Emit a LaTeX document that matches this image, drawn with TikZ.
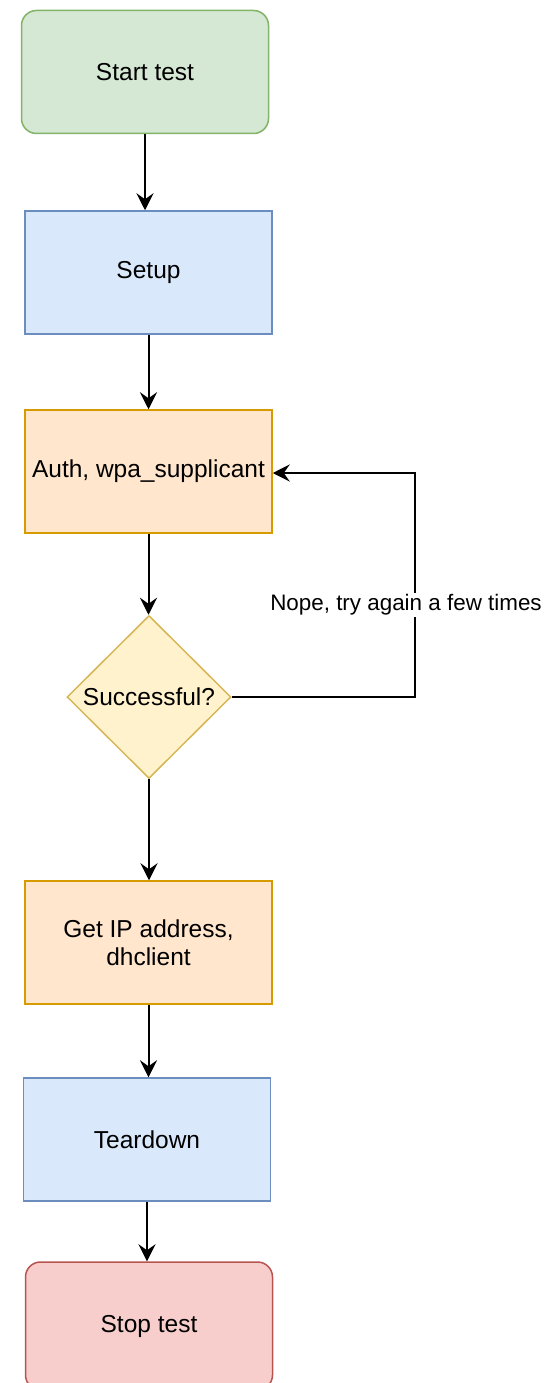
\documentclass[tikz,border=0pt]{standalone}
\usepackage{fontspec}
\setmainfont{Liberation Sans}
\usetikzlibrary{shapes.geometric,arrows.meta}
\definecolor{gfill}{HTML}{D5E8D4}\definecolor{gline}{HTML}{82B366}
\definecolor{bfill}{HTML}{DAE8FC}\definecolor{bline}{HTML}{6C8EBF}
\definecolor{ofill}{HTML}{FFE6CC}\definecolor{oline}{HTML}{D79B00}
\definecolor{yfill}{HTML}{FFF2CC}\definecolor{yline}{HTML}{D6B656}
\definecolor{rfill}{HTML}{F8CECC}\definecolor{rline}{HTML}{B85450}
\begin{document}
\begin{tikzpicture}[x=1pt,y=-1pt,
  boxbase/.style={draw,line width=1.5pt,minimum width=247pt,minimum height=123pt,inner sep=0pt,
    align=center,font=\fontsize{24.5}{28}\selectfont},
  startbox/.style={boxbase,rounded corners=15pt,fill=gfill,draw=gline},
  stopbox/.style={boxbase,rounded corners=15pt,fill=rfill,draw=rline},
  bluebox/.style={boxbase,fill=bfill,draw=bline},
  orangebox/.style={boxbase,fill=ofill,draw=oline},
  decision/.style={diamond,draw=yline,fill=yfill,line width=1.5pt,inner sep=0pt,
    minimum width=164pt,minimum height=163pt,font=\fontsize{24.5}{28}\selectfont},
  conn/.style={line width=2pt,-{Stealth[length=17pt,width=17pt,inset=6pt]}},
  lbl/.style={fill=white,inner sep=2pt,font=\fontsize{22.4}{26}\selectfont}]
\useasboundingbox (0,0) rectangle (548,1383);
\node[startbox] (start) at (145,72) {Start test};
\node[bluebox] (setup) at (148.5,272.5) {Setup};
\node[orangebox] (auth) at (148.5,471.5) {Auth, wpa\_supplicant};
\node[decision] (dec) at (149,697) {Successful?};
\node[orangebox] (ip) at (148.5,942.5) {Get IP address,\\dhclient};
\node[bluebox] (tear) at (147,1139.5) {Teardown};
\node[stopbox,minimum height=128pt] (stop) at (149,1326) {Stop test};
\coordinate (c1) at (415,697);
\coordinate (c2) at (415,473);
\draw[conn] (start.south) -- (setup.north -| start.south);
\draw[conn] (setup.south) -- (auth.north);
\draw[conn] (auth.south) -- (dec.north -| auth.south);
\draw[conn] (dec.south) -- (ip.north -| dec.south);
\draw[conn] (ip.south) -- (tear.north -| ip.south);
\draw[conn] (tear.south) -- (stop.north -| tear.south);
\draw[conn] (dec.east) -- (c1) -- (c2) -- (auth.east |- c2);
\node[lbl] (nope) at (406,605) {Nope, try again a few times};
\end{tikzpicture}
\end{document}
